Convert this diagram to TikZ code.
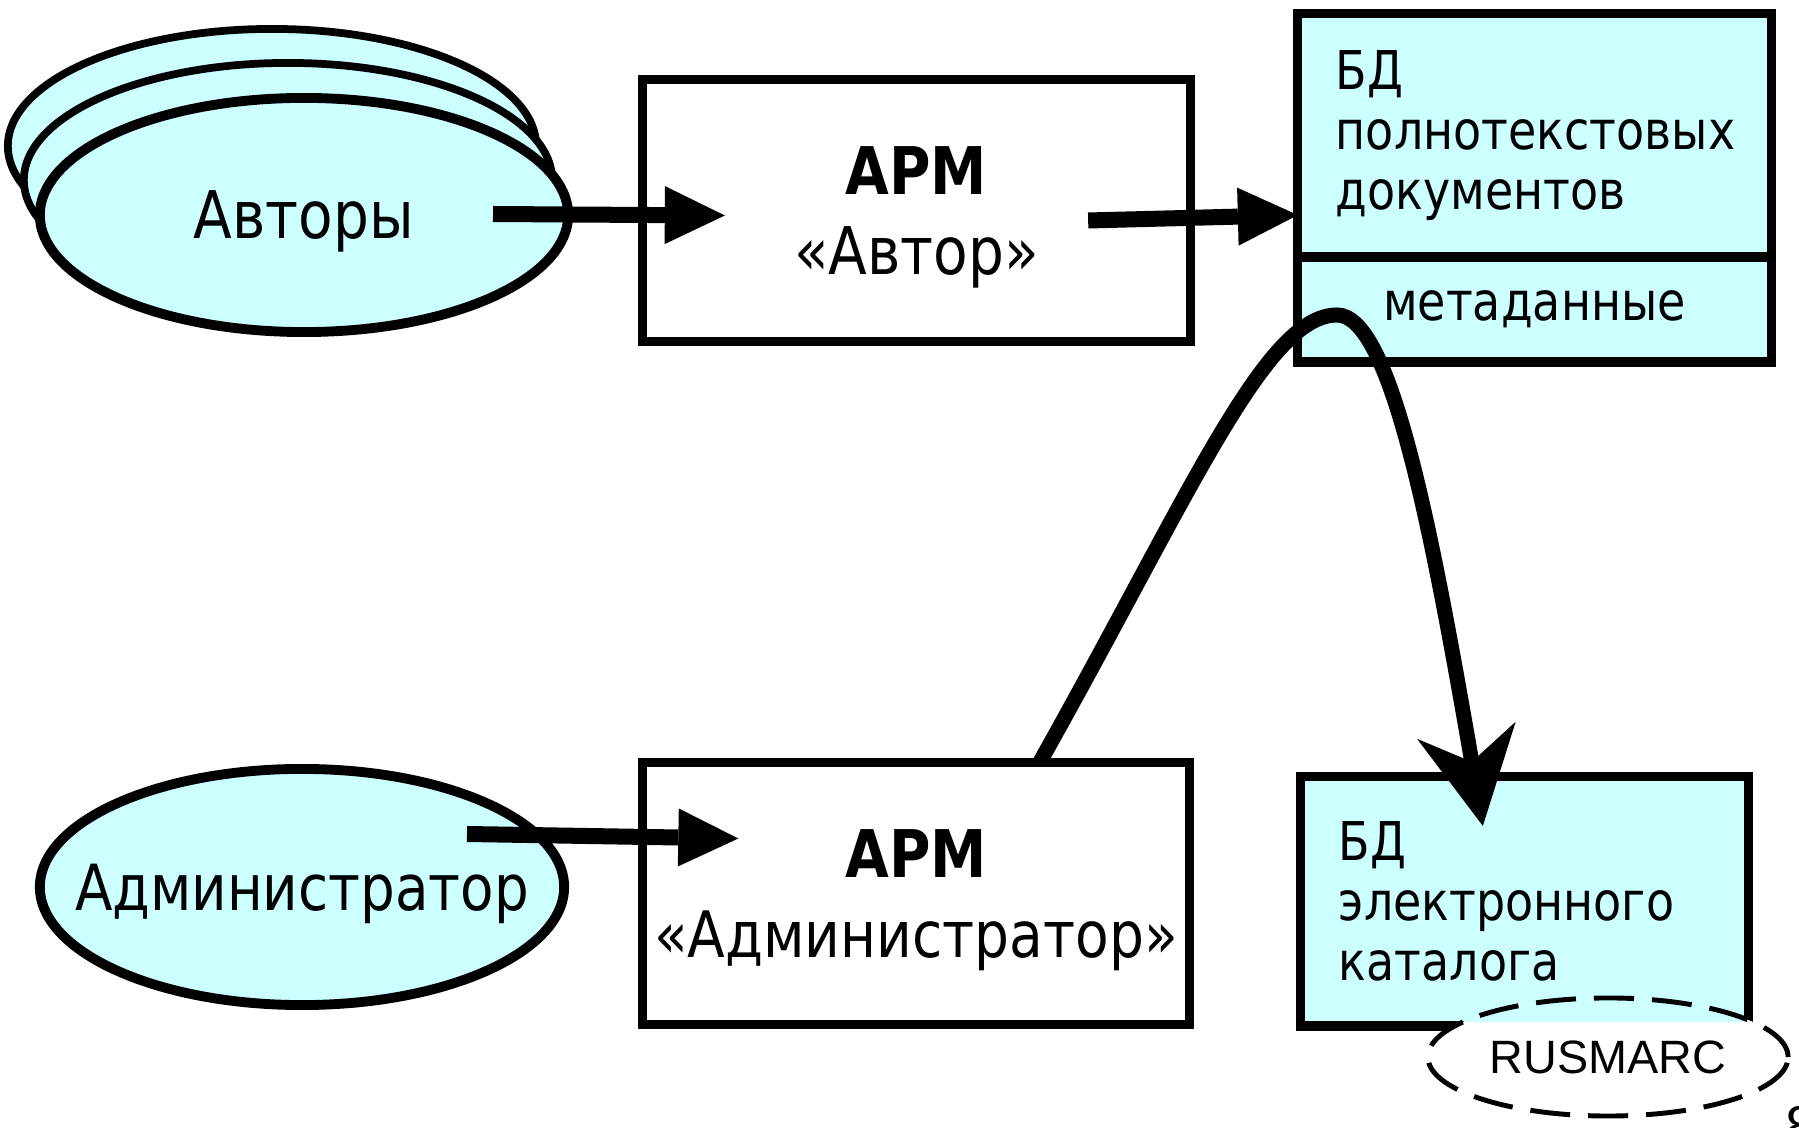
\documentclass[tikz,border=0pt]{standalone}
\usepackage{fontspec}
\setmainfont{DejaVu Sans}[FakeStretch=0.86]
\newfontfamily\marcfont{Liberation Sans}
\usepackage{tikz}
\usetikzlibrary{shapes.geometric, arrows.meta, calc}
\definecolor{dbcyan}{HTML}{CCFFFF}
\newcommand{\ctext}[1]{\makebox[0pt]{#1}}

\begin{document}
\begin{tikzpicture}
      [
        x=0.01cm, y=-0.01cm,
        actor/.style={ellipse, draw, line width=2.8pt, fill=dbcyan, outer sep=0pt,
          minimum width=5.28cm, minimum height=2.34cm, inner sep=0pt,
          text depth=0pt, font=\fontsize{18.7}{22.5}\selectfont},
        arm/.style={rectangle, draw, line width=2.6pt, fill=white, outer sep=0pt,
          minimum width=5.47cm, minimum height=2.62cm, inner sep=0pt, align=center,
          text depth=0pt, font=\fontsize{18.7}{22.5}\selectfont},
        db/.style={rectangle, draw, line width=2.6pt, fill=dbcyan, outer sep=0pt,
          inner xsep=0.38cm, inner ysep=0pt, align=left,
          font=\fontsize{15.2}{17}\selectfont},
        marc/.style={ellipse, draw, line width=1.4pt, dash pattern=on 0.4cm off 0.18cm,
          fill=white, minimum width=3.6cm, minimum height=1.18cm, inner sep=0pt,
          font=\marcfont\fontsize{13.3}{16}\selectfont},
        flow/.style={line width=0.16cm,
          -{Triangle[length=0.6cm,width=0.58cm,line width=0pt]}}
      ]
      \useasboundingbox (0,0) rectangle (1799,1128);
      % actors
      \node [actor, line width=2.2pt] (authors3) at (272,146) {};
      \node [actor, line width=2.2pt] (authors2) at (288,180) {};
      \node [actor] (authors) at (304,215) {Авторы};
      \node [actor, minimum width=5.24cm, minimum height=2.36cm,
        font=\fontsize{18.1}{22.5}\selectfont] (admin) at (302,887)
        {\ctext{Администратор}};
      % workstations
      \node [arm] (armauth) at (916.5,210.5) {\textbf{АРМ}\\«Автор»};
      \node [arm] (armadm)  at (916,893.5)
        {\textbf{АРМ}\\{\fontsize{18.2}{22.5}\selectfont«Администратор»}};
      % databases
      \node [db, text width=3.97cm, minimum height=2.43cm] (fulltext) at (1534.5,135.5)
        {БД\\полнотекстовых\\документов};
      \node [db, text width=3.97cm, minimum height=1.05cm, align=center] (meta)
        at (1534.5,309.5) {метаданные};
      \node [db, text width=3.71cm, minimum height=2.49cm] (ecat) at (1524.5,901.5)
        {БД\\электронного\\каталога};
      \node [marc, path picture={
          \fill [dbcyan] (path picture bounding box.north west)
            rectangle ($(ecat.south east)+(-4.5,-4.5)$);
        }] (rusmarc) at (1608,1057) {RUSMARC};
      \node [anchor=north west, inner sep=0pt, font=\marcfont\fontsize{16}{18}\selectfont]
        (page) at (1785,1106) {8};
      % arcs
      \draw [flow] ($(authors.center)+(189,-1)$) -- ($(armauth.west)+(82,5)$);
      \draw [flow] ($(armauth.east)+(-102,10)$) -- ($(fulltext.south west)+(0,-42)$);
      \draw [flow] ($(admin.center)+(165,-53)$) -- ($(armadm.west)+(96,-55)$);
      \coordinate (peak) at (1337,315);
      \coordinate (hit) at ($(ecat.north west)+(182,49)$);
      \draw [line width=0.15cm,
        -{Stealth[length=0.97cm,width=1.0cm,inset=0.32cm,line width=0pt]}]
        ($(armadm.north west)!0.726!(armadm.north east)$)
        .. controls (1190,495) and (1265,315) .. (peak)
        .. controls (1390,315) and (1430,520) .. (hit);
    \end{tikzpicture}
\end{document}
